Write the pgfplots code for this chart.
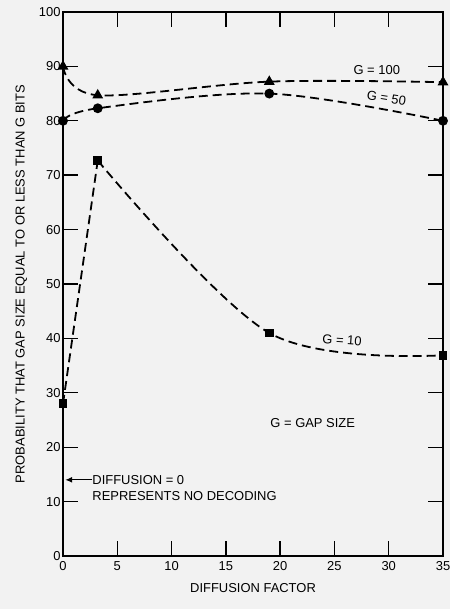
\documentclass[border=0pt]{standalone}
\usepackage{fontspec}
\setmainfont{Liberation Sans}
\usepackage{pgfplots}
\pgfplotsset{compat=1.18}
\usetikzlibrary{arrows.meta,backgrounds}
\begin{document}
\begin{tikzpicture}
\begin{axis}[
  at={(0,0)}, anchor=south west,
  scale only axis, width=380bp, height=544bp,
  xmin=0, xmax=35, ymin=0, ymax=100,
  xtick={0,5,...,35}, ytick={0,10,...,100},
  major tick length=0.53cm,
  axis line style={solid, line width=1.4pt},
  every tick/.append style={solid, line width=1.4pt, black},
  /pgf/number format/assume math mode=true,
  tick label style={font=\fontsize{13}{15}\selectfont},
  xticklabel style={yshift=-2pt},
  yticklabel style={xshift=1pt},
  label style={font=\fontsize{13}{15}\selectfont},
  xlabel={DIFFUSION FACTOR},
  xlabel style={yshift=-6pt},
  ylabel={PROBABILITY THAT GAP SIZE EQUAL TO OR LESS THAN G BITS},
  ylabel style={yshift=5pt},
  clip=false,
]
% G = 100
\addplot[black, line width=1.8pt, dash pattern=on 9pt off 5pt, smooth, tension=0.55,
  mark=triangle*, mark size=4.5pt, mark options={solid}]
  coordinates {(0,90) (3.2,84.7) (19,87.2) (35,87.1)};
% G = 50
\addplot[black, line width=1.8pt, dash pattern=on 9pt off 5pt, smooth, tension=0.55,
  mark=*, mark size=4pt, mark options={solid}]
  coordinates {(0,80) (3.2,82.3) (19,85.0) (35,80.0)};
% G = 10
\addplot[black, line width=1.8pt, dash pattern=on 9pt off 5pt,
  mark=square*, mark size=3.5pt, mark options={solid}]
  coordinates {(0,28) (3.2,72.7)};
\addplot[black, line width=1.8pt, dash pattern=on 9pt off 5pt, smooth, tension=0.55,
  mark=square*, mark size=3.5pt, mark options={solid}]
  coordinates {(3.2,72.7) (19,41.0) (35,36.9)};
\node[font=\fontsize{13}{15}\selectfont] at (axis cs:28.9,89.3) {G = 100};
\node[font=\fontsize{13}{15}\selectfont, rotate=-9] at (axis cs:29.8,84.1) {G = 50};
\node[font=\fontsize{13}{15}\selectfont, rotate=-4] at (axis cs:25.7,39.7) {G = 10};
\node[font=\fontsize{13}{15}\selectfont] at (axis cs:23,24.4) {G = GAP SIZE};
\draw[solid, -{Latex[length=7pt,width=6pt]}, line width=1.3pt] (axis cs:2.7,14) -- (axis cs:0.2,14);
\node[font=\fontsize{13}{15}\selectfont, anchor=west, inner sep=1pt] at (axis cs:2.6,14) {DIFFUSION = 0};
\node[font=\fontsize{13}{15}\selectfont, anchor=west, inner sep=1pt] at (axis cs:2.6,11.1) {REPRESENTS NO DECODING};
\end{axis}
\begin{scope}[on background layer]
\fill[black!5] (-63bp,-53bp) rectangle (387bp,556bp);
\end{scope}
\pgfresetboundingbox
\path[use as bounding box] (-63bp,-53bp) rectangle (387bp,556bp);
\end{tikzpicture}
\end{document}
